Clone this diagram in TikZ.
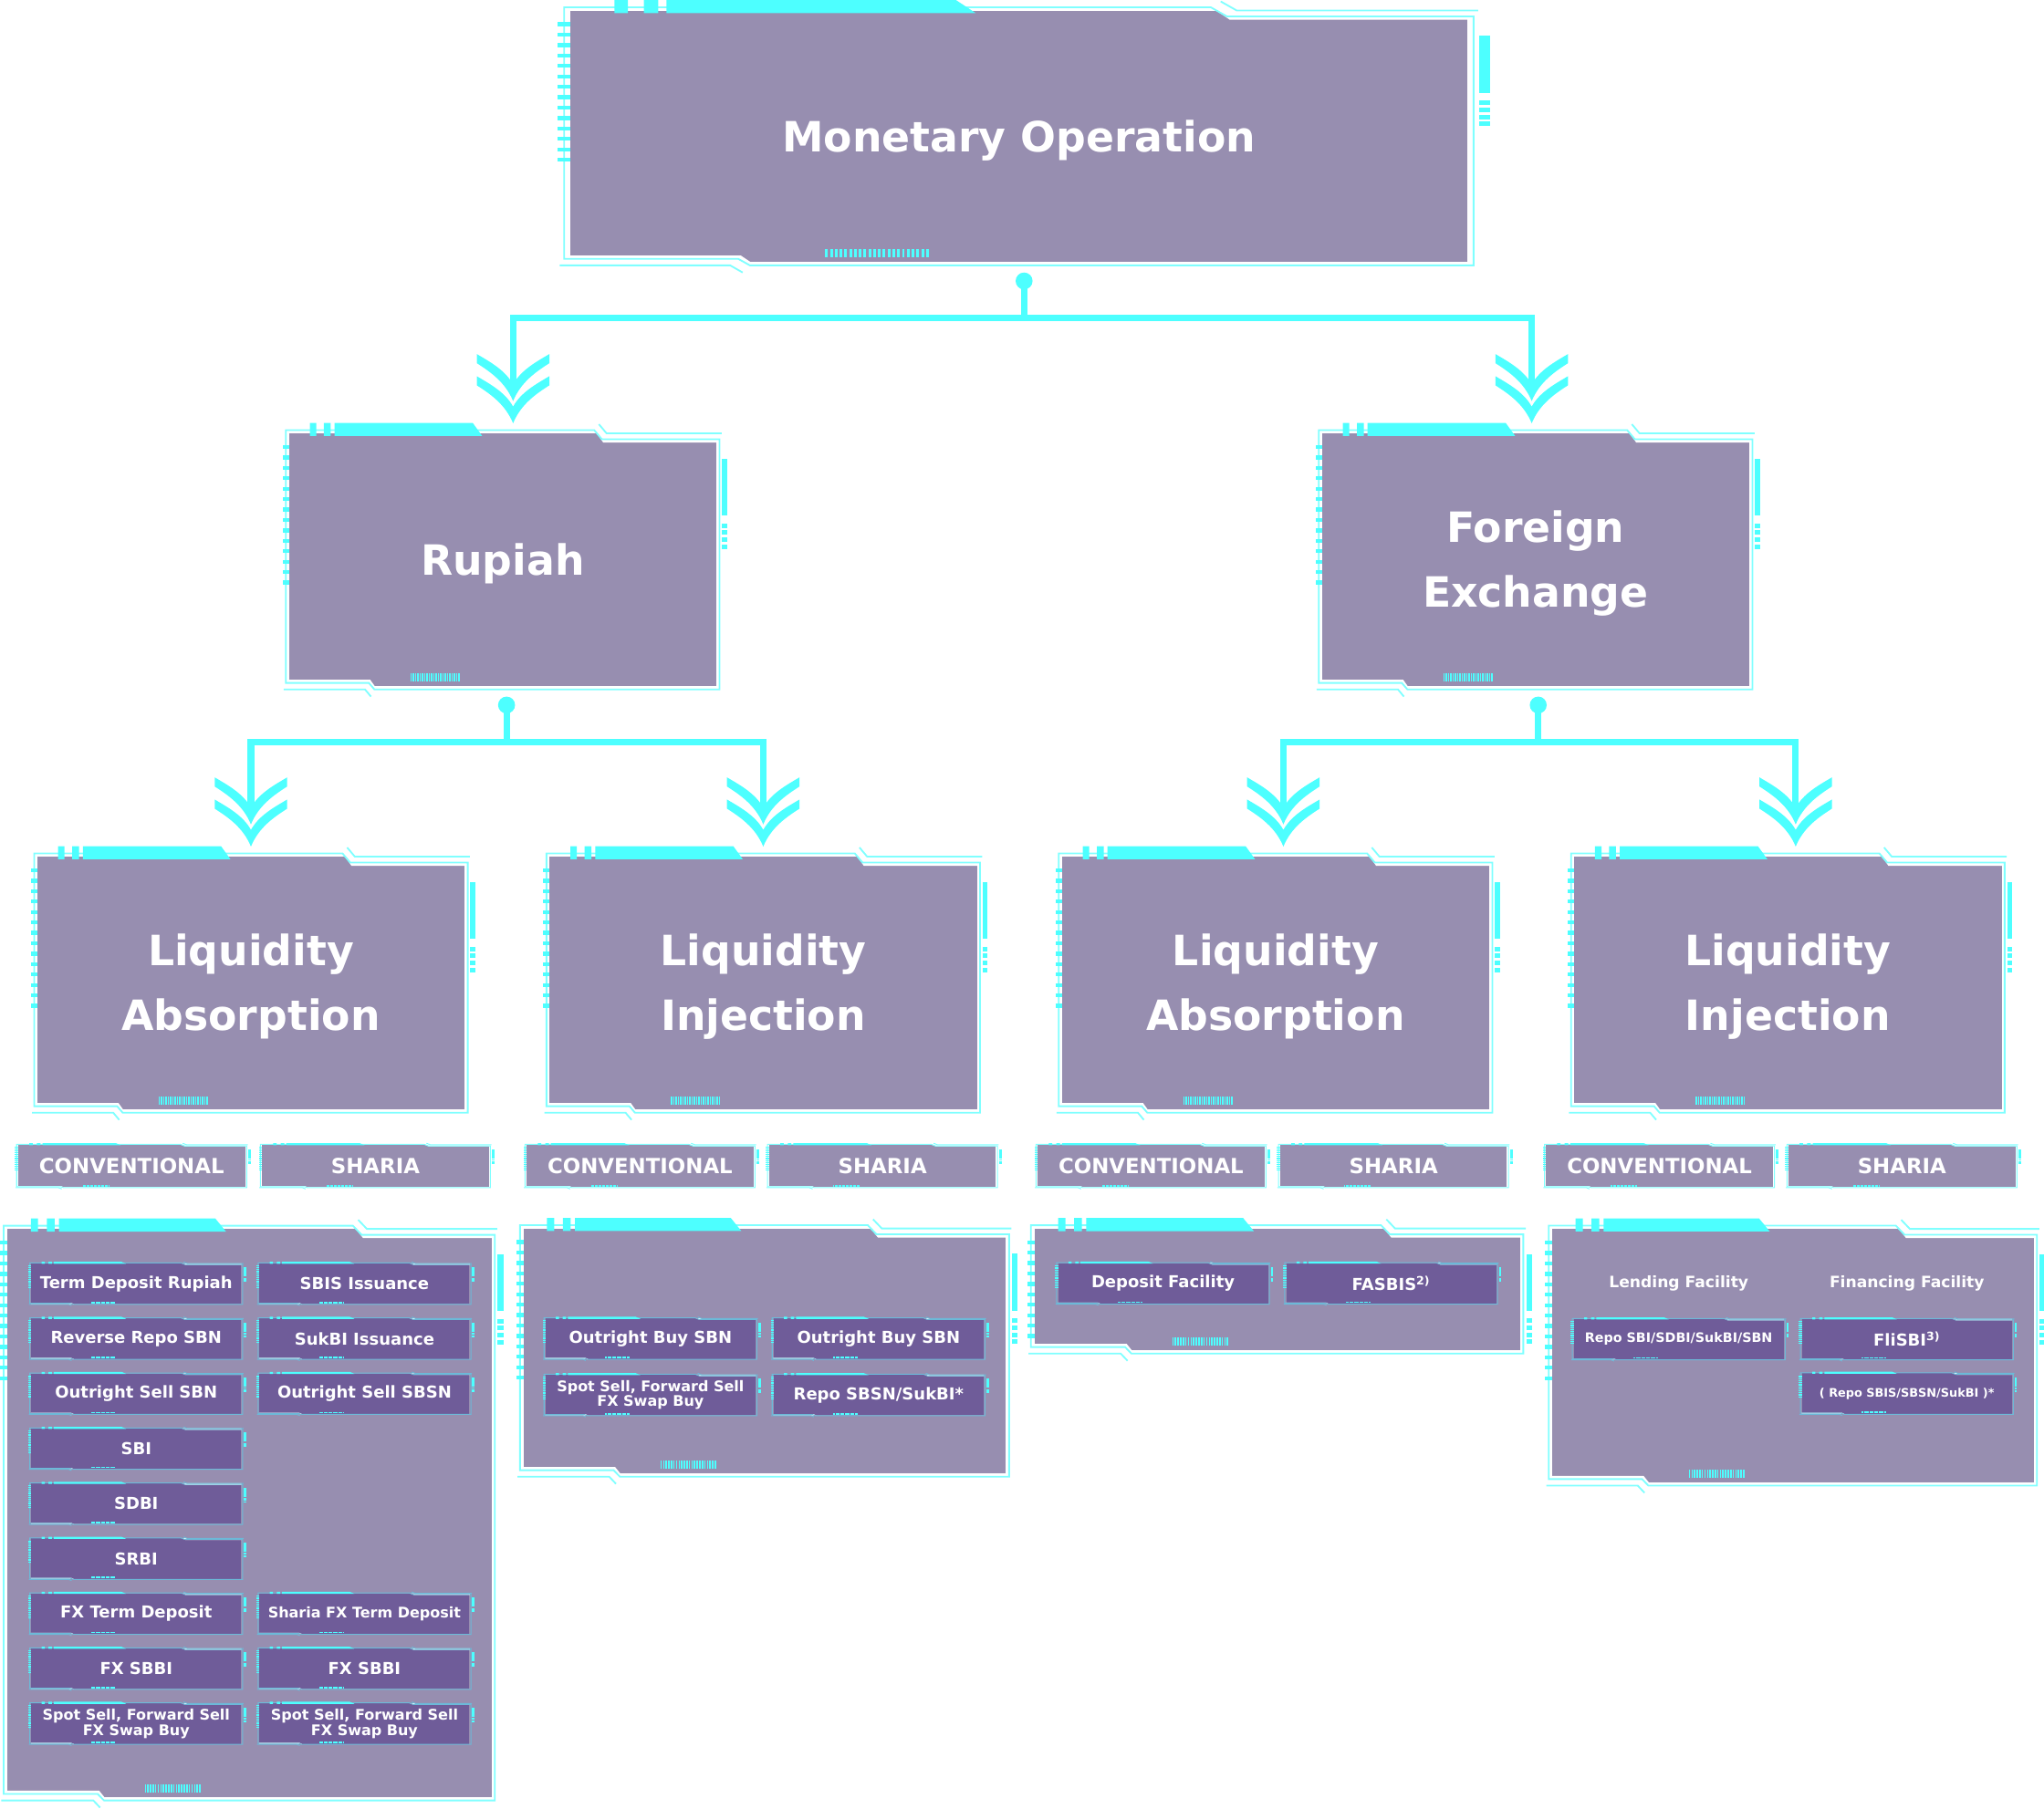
\documentclass[tikz,border=0pt]{standalone}
\usepackage{fontspec}
\setmainfont{DejaVu Sans}
\usetikzlibrary{positioning}

\definecolor{hudcyan}{HTML}{4DFFFF}
\definecolor{hudglow}{HTML}{80FFFF}
\definecolor{hudsteel}{HTML}{6CB9D8}
\definecolor{hudpanel}{HTML}{978EB0}
\definecolor{hudinst}{HTML}{6F5C99}

% frame trim round a named box: [line colour]{node}{vertical scale}
\newcommand{\hud}[3][hudglow]{%
  \pgfpointdiff{\pgfpointanchor{#2}{north west}}{\pgfpointanchor{#2}{south east}}%
  \pgfgetlastxy{\hudw}{\hudh}%
  \pgfmathsetmacro{\hudH}{-\hudh/#3}%
  \pgfmathtruncatemacro{\hudn}{min(13,(\hudH-14)/8)}%
  \pgfmathsetmacro{\hudlw}{0.6+0.7*#3}%
  \begin{scope}[shift={(#2.north west)}, x=\hudw, y=-#3pt]
    \fill[white] (0.718,-1) -- (1.002,-1) -- (1.002,7) -- (0.735,7) -- cycle;
    \fill[white] (-0.002,\hudH-5) -- (0.19,\hudH-5) -- (0.203,\hudH+1) -- (-0.002,\hudH+1) -- cycle;
    \draw[#1, line width=\hudlw pt] (-0.007,-2.5) -- (0.714,-2.5) -- (0.732,4.5) -- (1.007,4.5)
      -- (1.007,\hudH+2.5) -- (0.2,\hudH+2.5) -- (0.187,\hudH-2.5) -- (-0.007,\hudH-2.5) -- cycle;
    \draw[#1, line width=\hudlw pt] (0.725,-7) -- (0.743,0) -- (1.012,0);
    \draw[#1, line width=\hudlw pt] (-0.012,\hudH+2.5) -- (0.178,\hudH+2.5) -- (0.192,\hudH+8);
    \fill[hudcyan] (0.107,-8) -- (0.43,-8) -- (0.452,2) -- (0.107,2) -- cycle;
    \fill[hudcyan] (0.049,-8) rectangle (0.064,2) (0.082,-8) rectangle (0.098,2);
    \foreach \k in {0,...,\hudn} \fill[hudcyan] (-0.0146,9+8*\k) rectangle (0,12+8*\k);
    \fill[hudcyan] (1.013,19.5) rectangle (1.025,63);
    \foreach \k in {0,...,3} \fill[hudcyan] (1.013,69+5.4*\k) rectangle (1.025,72.5+5.4*\k);
    \foreach \k in {0,...,21} \fill[hudcyan] ({0.284+0.00536*\k},\hudH-10) rectangle ++(0.003,6.5);
  \end{scope}}

\begin{document}
\begin{tikzpicture}[x=1pt, y=-1pt,
        box/.style={rectangle, fill=hudpanel, text=white, inner sep=0pt, outer sep=0pt, align=center},
        card/.style={box, minimum width=328pt, minimum height=194pt, text depth=1pt,
            font=\bfseries\fontsize{32}{50}\selectfont},
        title/.style={card, minimum width=688pt, minimum height=193pt},
        tag/.style={box, minimum width=174pt, minimum height=32.5pt, font=\bfseries\fontsize{16}{18}\selectfont},
        tray/.style={box},
        instr/.style={box, fill=hudinst, minimum width=161pt, minimum height=31pt, font=\bfseries\fontsize{12.6}{14}\selectfont},
        twoline/.style={instr, font=\bfseries\fontsize{11.2}{11.8}\selectfont},
        hdr/.style={text=white, font=\bfseries\fontsize{12}{14}\selectfont},
        link/.style={draw=hudcyan, line width=5pt},
        chevrons/.pic={
            \foreach \d in {0,17}{
                \fill[hudcyan] (-27.8,\d-23.3) -- (-27.8,\d-16.3) .. controls (-18,\d-10) and (-6,\d-2) .. (0,\d+12.8)
                    .. controls (6,\d-2) and (18,\d-10) .. (27.8,\d-16.3) -- (27.8,\d-23.3)
                    .. controls (18,\d-17.5) and (6,\d-11) .. (0,\d) .. controls (-6,\d-11) and (-18,\d-17.5) .. (-27.8,\d-23.3) -- cycle;
            }
        },
    ]
    \useasboundingbox (0,0) rectangle (1568,1388);

    % Top level
    \node[title] (monop) at (781.6,104.6) {Monetary Operation};

    % Currency
    \node[card] (rupiah) at (385.6,429.5) {Rupiah};
    \node[card] (forex) at (1178,429.5) {Foreign\\Exchange};

    % Operation type
    \node[card] (rp_abs) at (192.5,754.3) {Liquidity\\Absorption};
    \node[card] (rp_inj) at (585.5,754.3) {Liquidity\\Injection};
    \node[card] (fx_abs) at (978.5,754.3) {Liquidity\\Absorption};
    \node[card] (fx_inj) at (1371.5,754.3) {Liquidity\\Injection};

    \node[tag] (conv_a) at (101,894.7) {CONVENTIONAL};
    \node[tag] (shar_a) at (288,894.7) {SHARIA};
    \node[tag] (conv_b) at (491,894.7) {CONVENTIONAL};
    \node[tag] (shar_b) at (677,894.7) {SHARIA};
    \node[tag] (conv_c) at (883,894.7) {CONVENTIONAL};
    \node[tag] (shar_c) at (1069,894.7) {SHARIA};
    \node[tag] (conv_d) at (1273,894.7) {CONVENTIONAL};
    \node[tag] (shar_d) at (1459,894.7) {SHARIA};

    % Instrument trays
    \node[tray, minimum width=371.5pt, minimum height=436pt] (tray_a) at (191.2,1161) {};
    \node[tray, minimum width=370pt, minimum height=188pt] (tray_b) at (586.5,1036.6) {};
    \node[tray, minimum width=372.5pt, minimum height=93.5pt] (tray_c) at (979.7,989.4) {};
    \node[tray, minimum width=369.4pt, minimum height=194.5pt] (tray_d) at (1375.3,1040.2) {};
    \foreach \n in {monop,rupiah,forex,rp_abs,rp_inj,fx_abs,fx_inj,tray_a,tray_b,tray_c,tray_d} {\hud{\n}{1}}
    \foreach \n in {conv_a,shar_a,conv_b,shar_b,conv_c,shar_c,conv_d,shar_d} {\hud{\n}{0.1675}}

    % Rupiah absorption
    \node[instr] (td_rp) at (104.5,985) {Term Deposit Rupiah};
    \node[instr] (rrepo_sbn) at (104.5,1027.2) {Reverse Repo SBN};
    \node[instr] (osell_sbn) at (104.5,1069.4) {Outright Sell SBN};
    \node[instr] (sbi) at (104.5,1111.6) {SBI};
    \node[instr] (sdbi) at (104.5,1153.8) {SDBI};
    \node[instr] (srbi) at (104.5,1196) {SRBI};
    \node[instr] (fx_td) at (104.5,1238.2) {FX Term Deposit};
    \node[instr] (fx_sbbi) at (104.5,1280.4) {FX SBBI};
    \node[twoline] (spot_a) at (104.5,1322.6) {Spot Sell, Forward Sell\\FX Swap Buy};
    \node[instr] (sbis) at (279.6,985) {SBIS Issuance};
    \node[instr] (sukbi) at (279.6,1027.2) {SukBI Issuance};
    \node[instr] (osell_sbsn) at (279.6,1069.4) {Outright Sell SBSN};
    \node[instr, font=\bfseries\fontsize{11.2}{13}\selectfont] (sh_fx_td) at (279.6,1238.2) {Sharia FX Term Deposit};
    \node[instr] (sh_fx_sbbi) at (279.6,1280.4) {FX SBBI};
    \node[twoline] (sh_spot_a) at (279.6,1322.6) {Spot Sell, Forward Sell\\FX Swap Buy};

    % Rupiah injection
    \node[instr] (obuy_sbn) at (499,1027.2) {Outright Buy SBN};
    \node[twoline] (spot_b) at (499,1070.4) {Spot Sell, Forward Sell\\FX Swap Buy};
    \node[instr] (sh_obuy_sbn) at (674,1027.2) {Outright Buy SBN};
    \node[instr] (repo_sbsn) at (674,1070.4) {Repo SBSN/SukBI*};

    % Foreign exchange absorption
    \node[instr] (dep_fac) at (892.2,984.8) {Deposit Facility};
    \node[instr] (fasbis) at (1067.2,984.8) {FASBIS\textsuperscript{2)}};

    % Foreign exchange injection
    \node[hdr] (lend_hd) at (1287.8,985) {Lending Facility};
    \node[hdr] (fin_hd) at (1462.8,985) {Financing Facility};
    \node[instr, font=\bfseries\fontsize{10}{12}\selectfont] (repo_lf) at (1287.8,1027.6) {Repo SBI/SDBI/SukBI/SBN};
    \node[instr] (flisbi) at (1462.8,1027.6) {FliSBI\textsuperscript{3)}};
    \node[instr, font=\bfseries\fontsize{9}{11}\selectfont] (repo_sbis) at (1462.8,1069.3) {( Repo SBIS/SBSN/SukBI )*};

    \foreach \n in {td_rp,rrepo_sbn,osell_sbn,sbi,sdbi,srbi,fx_td,fx_sbbi,spot_a,sbis,sukbi,osell_sbsn,sh_fx_td,sh_fx_sbbi,sh_spot_a,
        obuy_sbn,spot_b,sh_obuy_sbn,repo_sbsn,dep_fac,fasbis,repo_lf,flisbi,repo_sbis} {\hud[hudsteel]{\n}{0.16}}

    % Connectors
    \coordinate (monop_dot) at ([xshift=4pt,yshift=-14.5pt]monop.south);
    \coordinate (rupiah_in) at ([xshift=8pt,yshift=37.5pt]rupiah.north);
    \coordinate (forex_in) at ([xshift=-3pt,yshift=37.5pt]forex.north);
    \draw[link] (monop_dot) -- ++(0,28.5) -| (rupiah_in);
    \draw[link] (monop_dot) -- ++(0,28.5) -| (forex_in);
    \fill[hudcyan] (monop_dot) circle (6.5pt);
    \pic at (rupiah_in) {chevrons};
    \pic at (forex_in) {chevrons};

    \coordinate (rupiah_dot) at ([xshift=3pt,yshift=-14.5pt]rupiah.south);
    \coordinate (rp_abs_in) at ([yshift=37.5pt]rp_abs.north);
    \coordinate (rp_inj_in) at ([yshift=37.5pt]rp_inj.north);
    \draw[link] (rupiah_dot) -- ++(0,28.5) -| (rp_abs_in);
    \draw[link] (rupiah_dot) -- ++(0,28.5) -| (rp_inj_in);
    \fill[hudcyan] (rupiah_dot) circle (6.5pt);
    \pic at (rp_abs_in) {chevrons};
    \pic at (rp_inj_in) {chevrons};

    \coordinate (forex_dot) at ([xshift=2pt,yshift=-14.5pt]forex.south);
    \coordinate (fx_abs_in) at ([xshift=6pt,yshift=37.5pt]fx_abs.north);
    \coordinate (fx_inj_in) at ([xshift=6pt,yshift=37.5pt]fx_inj.north);
    \draw[link] (forex_dot) -- ++(0,28.5) -| (fx_abs_in);
    \draw[link] (forex_dot) -- ++(0,28.5) -| (fx_inj_in);
    \fill[hudcyan] (forex_dot) circle (6.5pt);
    \pic at (fx_abs_in) {chevrons};
    \pic at (fx_inj_in) {chevrons};
\end{tikzpicture}
\end{document}
